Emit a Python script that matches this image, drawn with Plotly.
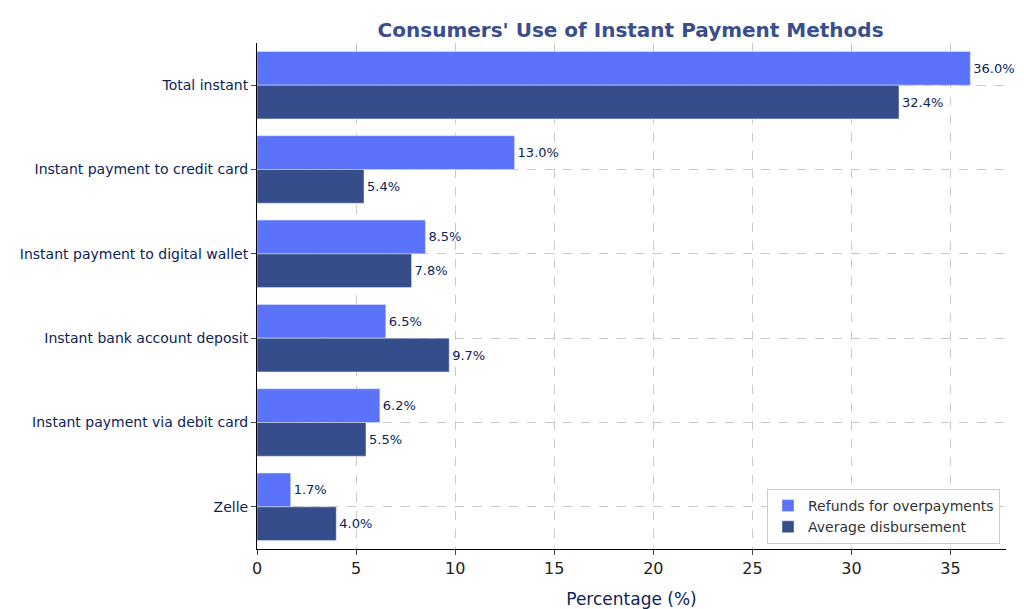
import plotly.graph_objects as go

categories = ["Total instant", "Instant payment to credit card", "Instant payment to digital wallet",
              "Instant bank account deposit", "Instant payment via debit card", "Zelle"]
refunds = [36.0, 13.0, 8.5, 6.5, 6.2, 1.7]
average = [32.4, 5.4, 7.8, 9.7, 5.5, 4.0]

fig = go.Figure()
fig.add_trace(go.Bar(y=categories, x=refunds, orientation="h", name="Refunds for overpayments",
                     marker_color="#5b72fb", text=[f"{v:.1f}%" for v in refunds],
                     textposition="outside", cliponaxis=False,
                     textfont=dict(color="#0d2357", size=13)))
fig.add_trace(go.Bar(y=categories, x=average, orientation="h", name="Average disbursement",
                     marker_color="#364d8c", text=[f"{v:.1f}%" for v in average],
                     textposition="outside", cliponaxis=False,
                     textfont=dict(color="#0d2357", size=13)))

fig.update_layout(
    width=1024, height=609,
    barmode="group", bargap=0.2, bargroupgap=0,
    plot_bgcolor="white", paper_bgcolor="white",
    font=dict(family="DejaVu Sans", color="#0d2357"),
    title=dict(text="<b>Consumers' Use of Instant Payment Methods</b>", x=0.608, xanchor="center",
               y=0.975, font=dict(size=20, color="#3a4d8c")),
    margin=dict(l=249, r=26, t=35, b=56),
    legend=dict(x=0.992, y=0.01, xanchor="right", yanchor="bottom", bordercolor="#cccccc",
                borderwidth=1, font=dict(size=14, color="#333333"), bgcolor="white"),
    xaxis=dict(range=[0, 37.8], dtick=5, showgrid=True, gridcolor="#c8c8c8", griddash="dash",
               showline=True, linecolor="black", ticks="outside", tickfont=dict(size=16, color="#222"),
               title=dict(text="Percentage (%)", font=dict(size=17, color="#0d2357")), zeroline=False),
    yaxis=dict(autorange="reversed", showgrid=True, gridcolor="#c8c8c8", griddash="dash",
               showline=True, linecolor="black", ticks="outside", tickfont=dict(size=14, color="#0d2357")),
)
fig.write_html("out.html")
